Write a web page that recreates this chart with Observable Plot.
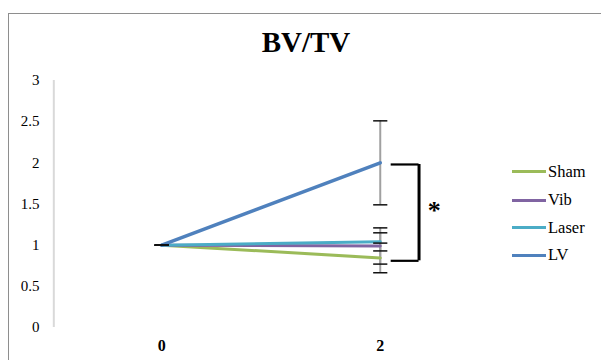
<!DOCTYPE html>
<html>
<head>
<meta charset="utf-8">
<script src="https://cdn.jsdelivr.net/npm/d3@7"></script>
<script src="https://cdn.jsdelivr.net/npm/@observablehq/plot@0.6"></script>
<style>
  html, body { margin: 0; padding: 0; background: white; }
  body { width: 601px; height: 360px; overflow: hidden; position: relative; font-family: "Liberation Serif", "Times New Roman", serif; }
  #frame { position: absolute; left: 8px; top: 13px; width: 700px; height: 400px; border: 1px solid #8e8e8e; pointer-events: none; }
  #chart { position: absolute; left: 0; top: 0; }
  #title { position: absolute; left: 0; width: 612px; top: 28px; text-align: center; font-weight: bold; font-size: 29px; line-height: 29px; color: #000; font-family: "Liberation Serif", "Times New Roman", serif; }
  .leg { position: absolute; left: 512px; height: 20px; display: flex; align-items: center; font-size: 16.5px; color: #000; font-family: "Liberation Serif", "Times New Roman", serif; }
  .leg .sw { width: 34px; height: 3px; margin-right: 2px; }
</style>
</head>
<body>
<div id="chart"></div>
<div id="title">BV/TV</div>
<div id="legend"></div>
<div id="frame"></div>
<script>
// ---- data ----
const times = [0, 2];
const seriesNames = ["Sham", "Vib", "Laser", "LV"];
const seriesColors = ["#9BBB59", "#8064A2", "#4BACC6", "#4F81BD"];
const shamValues = [1, 0.845];
const vibValues = [1, 0.99];
const laserValues = [1, 1.04];
const lvValues = [1, 2.0];
const shamErr = [0, 0.18];
const vibErr = [0, 0.22];
const laserErr = [0, 0.11];
const lvErr = [0, 0.51];
const yTicks = [0, 0.5, 1, 1.5, 2, 2.5, 3];
const xTicks = [0, 2];
const bracketX = [2.1, 2.355];
const bracketY = [0.81, 1.98];
const starLabel = ["*"];
const starPos = [2.495, 1.42];

// ---- build table ----
const valuesBySeries = [shamValues, vibValues, laserValues, lvValues];
const errBySeries = [shamErr, vibErr, laserErr, lvErr];
const rows = [];
seriesNames.forEach((s, i) => {
  times.forEach((t, j) => {
    rows.push({series: s, time: t, value: valuesBySeries[i][j], err: errBySeries[i][j]});
  });
});

const capSymbol = {
  draw(context, size) {
    const w = Math.sqrt(size);
    context.moveTo(-w, 0);
    context.lineTo(w, 0);
  }
};

const caps = rows.flatMap(d => [{time: d.time, y: d.value + d.err}, {time: d.time, y: d.value - d.err}]);
const serif = "'Liberation Serif', 'Times New Roman', serif";

const chart = Plot.plot({
  width: 601,
  height: 360,
  marginTop: 80,
  marginBottom: 33,
  marginLeft: 52,
  marginRight: 112,
  style: {background: "transparent", fontFamily: serif},
  x: {domain: [-1, 3], label: null},
  y: {domain: [0, 3], label: null},
  color: {domain: seriesNames, range: seriesColors},
  marks: [
    Plot.ruleX([-1], {y1: 0, y2: 3, stroke: "#d9d9d9", strokeWidth: 2, dx: 1.3}),
    Plot.axisY({ticks: yTicks, tickFormat: d => String(d), tickSize: 0, tickPadding: 13, fontSize: 15, fontFamily: serif, fill: "#000", label: null}),
    Plot.axisX({ticks: xTicks, tickFormat: d => String(d), tickSize: 0, tickPadding: 12, fontSize: 16, fontWeight: "bold", fontFamily: serif, fill: "#000", label: null}),
    Plot.ruleX(rows.filter(d => d.err > 0), {x: "time", y1: d => d.value - d.err, y2: d => d.value + d.err, stroke: "#a0a0a0", strokeWidth: 2}),
    Plot.line(rows, {x: "time", y: "value", z: "series", stroke: "series", strokeWidth: d => d.series === "LV" ? 3.5 : 3}),
    Plot.dot(caps, {x: "time", y: "y", symbol: capSymbol, r: 4, stroke: "#111", strokeWidth: 1.5, fill: "none"}),
    Plot.ruleY(bracketY, {y: d => d, x1: bracketX[0], x2: bracketX[1], stroke: "#000", strokeWidth: 2.2}),
    Plot.ruleX([bracketX[1]], {x: d => d, y1: bracketY[0], y2: bracketY[1], stroke: "#000", strokeWidth: 3}),
    Plot.text(starLabel, {x: () => starPos[0], y: () => starPos[1], text: d => d, fontSize: 26, fontWeight: "bold", fontFamily: serif, fill: "#000"})
  ]
});
document.getElementById("chart").appendChild(chart);

// ---- legend ----
const legendTops = [171.7, 200, 227.7, 255.3];
const legend = document.getElementById("legend");
seriesNames.forEach((s, i) => {
  const el = document.createElement("div");
  el.className = "leg";
  el.style.top = (legendTops[i] - 10) + "px";
  el.innerHTML = `<span class="sw" style="background:${seriesColors[i]}"></span><span>${s}</span>`;
  legend.appendChild(el);
});
</script>
</body>
</html>
